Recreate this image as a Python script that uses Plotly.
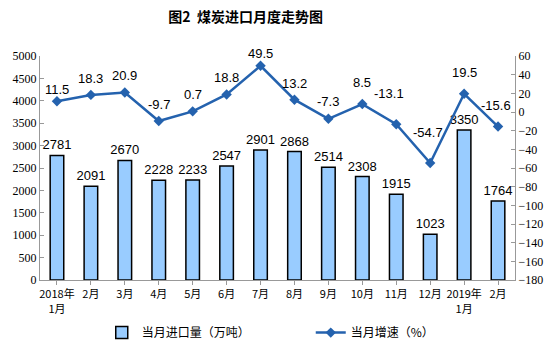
import plotly.graph_objects as go

months = ["2018年<br>1月", "2月", "3月", "4月", "5月", "6月", "7月", "8月", "9月", "10月", "11月", "12月", "2019年<br>1月", "2月"]
imports = [2781, 2091, 2670, 2228, 2233, 2547, 2901, 2868, 2514, 2308, 1915, 1023, 3350, 1764]
growth = [11.5, 18.3, 20.9, -9.7, 0.7, 18.8, 49.5, 13.2, -7.3, 8.5, -13.1, -54.7, 19.5, -15.6]

# label offsets above the line points (pixels), styling only
label_dy = [12, 16, 17, 17, 17, 17, 12, 16, 17, 22, 31, 31, 21, 21]
label_dx = [0, 0, 0, 0, 0, 0, 0, 0, 0, 0, -7, -2, 0, -2]

x = list(range(len(months)))
LINE = "#2462AE"

fig = go.Figure()
fig.add_trace(go.Bar(
    x=x, y=imports, name="当月进口量（万吨）",
    marker=dict(color="#99CCFF", line=dict(color="#000000", width=1.5)),
    width=0.4,
    text=[str(v) for v in imports], textposition="outside",
    textfont=dict(family="Liberation Sans, Arial", size=13, color="#000000"),
    constraintext="none",
    cliponaxis=False,
    legend="legend",
))
fig.add_trace(go.Scatter(
    x=x, y=growth, name="当月增速（%）", yaxis="y2",
    mode="lines+markers",
    line=dict(color=LINE, width=2.5),
    marker=dict(symbol="diamond", size=8, color=LINE),
    cliponaxis=False,
    legend="legend2",
))

for i, v in enumerate(growth):
    fig.add_annotation(
        x=x[i], y=v, yref="y2", xref="x", text=f"{v:g}", showarrow=False,
        xanchor="center", yanchor="middle", yshift=label_dy[i], xshift=label_dx[i],
        font=dict(family="Liberation Sans, Arial", size=13, color="#000000"),
    )

axis_font = dict(family="Liberation Serif, Times New Roman", size=12, color="#000000")
legend_font = dict(family="Noto Sans CJK SC", size=12, color="#000000")
fig.update_layout(
    width=557, height=354,
    margin=dict(l=40, r=42, t=56, b=74, autoexpand=False),
    paper_bgcolor="white", plot_bgcolor="white",
    title=dict(text="<b>图2  煤炭进口月度走势图</b>", xref="container", x=0.441, xanchor="center",
               yref="container", y=0.952, yanchor="middle",
               font=dict(family="Noto Sans CJK SC", size=14, color="#000000")),
    xaxis=dict(
        tickmode="array", tickvals=x, ticktext=months, range=[-0.5, 13.5],
        showline=True, linecolor="#999999", linewidth=1, showgrid=False,
        ticks="outside", tickson="boundaries", ticklen=4, tickcolor="#999999",
        tickfont=dict(family="Noto Sans CJK SC", size=11, color="#000000"),
        automargin=False,
    ),
    yaxis=dict(
        range=[0, 5000], dtick=500, showline=True, linecolor="#999999", linewidth=1,
        ticks="inside", ticklen=4, tickcolor="#999999", showgrid=False, zeroline=False,
        tickfont=axis_font, automargin=False,
    ),
    yaxis2=dict(
        range=[-180, 60], dtick=20, overlaying="y", side="right",
        showline=True, linecolor="#999999", linewidth=1,
        ticks="inside", ticklen=4, tickcolor="#999999", showgrid=False, zeroline=False,
        tickfont=axis_font, automargin=False,
    ),
    legend=dict(orientation="h", x=0.13, y=-0.17, xanchor="left", yanchor="top", font=legend_font),
    legend2=dict(orientation="h", x=0.57, y=-0.17, xanchor="left", yanchor="top", font=legend_font),
    showlegend=True,
)

fig.write_html("out.html")
